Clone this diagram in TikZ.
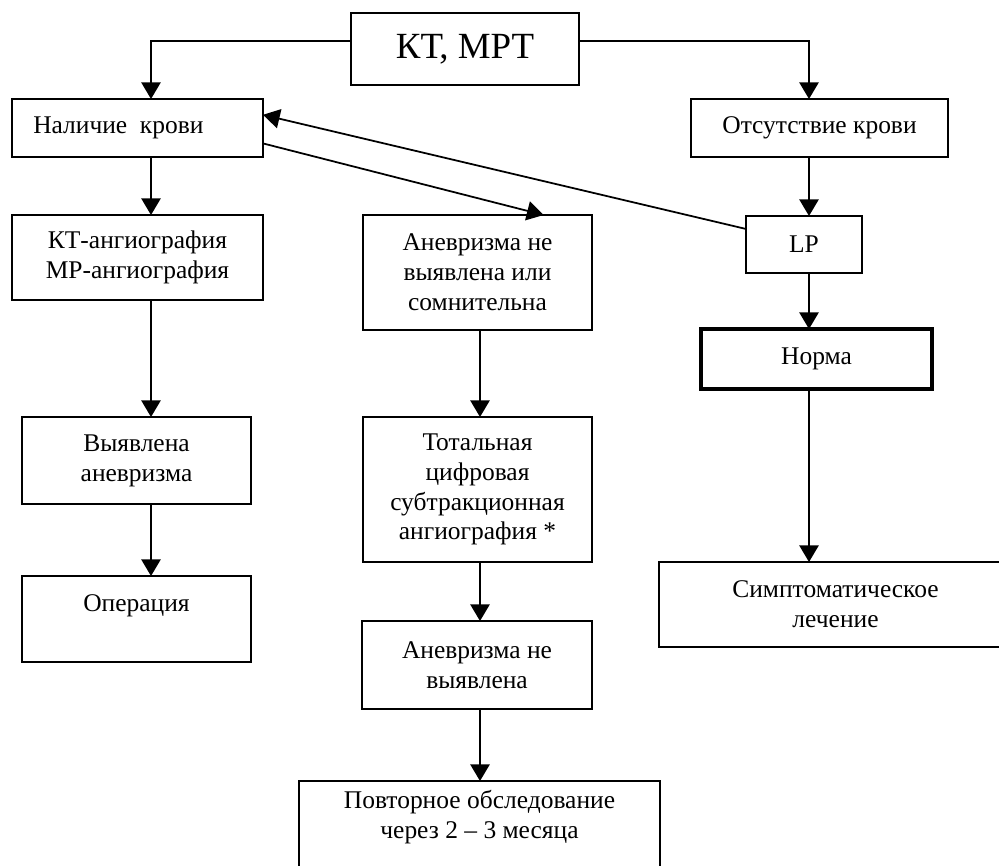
\documentclass[tikz,border=0pt]{standalone}
\usepackage{fontspec}
\setmainfont{Liberation Serif}
\usepackage{tikz}
\usetikzlibrary{arrows.meta, positioning, calc}
\tikzset{
  box/.style={
    rectangle, draw=black, line width=1pt, fill=white,
    inner sep=0pt, outer sep=0pt, align=center,
    font=\fontsize{14.5}{17}\selectfont
  },
  titlebox/.style={
    box, font=\fontsize{21}{24}\selectfont
  },
  thickbox/.style={box, line width=1.8pt},
  arrow/.style={line width=1pt, -{Triangle[length=9.5pt, width=11pt]}},
}

\begin{document}
\begin{tikzpicture}[x=0.02cm, y=-0.02cm]
  \useasboundingbox (0,0) rectangle (999,865);
  \clip (0,0) rectangle (999,865);

  \coordinate (lcol) at (151,0);
  \coordinate (mcol) at (480,0);
  \coordinate (rcol) at (809,0);

  \node (kt)    [titlebox, minimum width=4.56cm, minimum height=1.44cm] at (465,49)      {КТ, МРТ};
  \node (nal)   [box,      minimum width=5.02cm, minimum height=1.16cm] at (137.5,128)   {Наличие\ \ крови\hspace*{1.5em}};
  \node (ots)   [box,      minimum width=5.14cm, minimum height=1.16cm] at (819.5,128)   {Отсутствие крови};
  \node (kta)   [box,      minimum width=5.02cm, minimum height=1.70cm] at (137.5,257.5) {КТ-ангиография\\МР-ангиография};
  \node (anev)  [box,      minimum width=4.58cm, minimum height=2.30cm] at (477.5,272.5) {Аневризма не\\выявлена или\\сомнительна};
  \node (lp)    [box,      minimum width=2.32cm, minimum height=1.14cm] at (804,244.5)   {LP};
  \node (norma) [thickbox, minimum width=4.62cm, minimum height=1.20cm] at (816.5,359)   {Норма};
  \node (vyav)  [box,      minimum width=4.58cm, minimum height=1.74cm] at (136.5,460.5) {Выявлена\\аневризма};
  \node (tot)   [box,      minimum width=4.58cm, minimum height=2.90cm] at (477.5,489.5) {Тотальная\\цифровая\\субтракционная\\ангиография *};
  \node (opr)   [box,      minimum width=4.58cm, minimum height=1.72cm] at (136.5,619)   {Операция\\[-4pt]\strut};
  \node (simp)  [box,      minimum width=7.06cm, minimum height=1.70cm] at (835.5,604.5) {Симптоматическое\\лечение};
  \node (anev2) [box, line width=1.4pt, minimum width=4.60cm, minimum height=1.76cm] at (477,665) {Аневризма не\\выявлена};
  \node (povt)  [box, line width=1.4pt, minimum width=7.22cm, minimum height=1.84cm] at (479.5,827) {Повторное обследование\\через 2 – 3 месяца\\[-8pt]\strut};

  \draw [arrow] (kt.176) -| (nal.north -| lcol);
  \draw [arrow] (kt.4)   -| (ots.north -| rcol);
  \draw [arrow] (nal.south -| lcol)  -- (kta.north -| lcol);
  \draw [arrow] (kta.south -| lcol)  -- (vyav.north -| lcol);
  \draw [arrow] (vyav.south -| lcol) -- (opr.north -| lcol);
  \draw [arrow] (ots.south -| rcol)  -- (lp.north -| rcol);
  \draw [arrow] (lp.south -| rcol)   -- (norma.north -| rcol);
  \draw [arrow] (norma.south -| rcol) -- (simp.north -| rcol);
  \draw [arrow] (lp.165) -- (nal.6);
  \draw [arrow] (nal.-7) -- (anev.41);
  \draw [arrow] (anev.south -| mcol)  -- (tot.north -| mcol);
  \draw [arrow] (tot.south -| mcol)   -- (anev2.north -| mcol);
  \draw [arrow] (anev2.south -| mcol) -- (povt.north -| mcol);
\end{tikzpicture}
\end{document}
